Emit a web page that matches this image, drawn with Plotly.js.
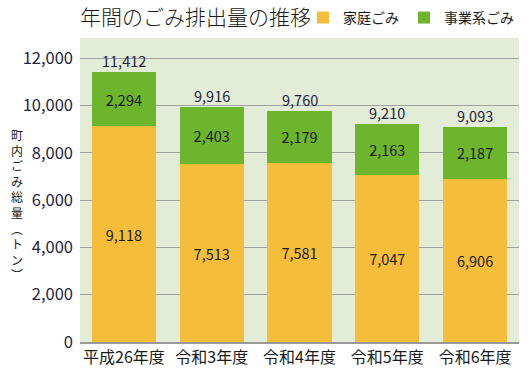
<!DOCTYPE html>
<html>
<head>
<meta charset="utf-8">
<script src="https://cdn.plot.ly/plotly-3.0.1.min.js"></script>
<style>html,body{margin:0;padding:0;background:#fff;}#chart{width:529px;height:374px;}</style>
</head>
<body>
<div id="chart"></div>
<script>
const categories = ["平成26年度", "令和3年度", "令和4年度", "令和5年度", "令和6年度"];
const household = [9118, 7513, 7581, 7047, 6906];
const business = [2294, 2403, 2179, 2163, 2187];
const seriesNames = ["家庭ごみ", "事業系ごみ"];
const tickVals = [0, 2000, 4000, 6000, 8000, 10000, 12000];
const yTitleChars = ["町", "内", "ご", "み", "総", "量", "︵", "ト", "ン", "︶"];

const FONT = '"Noto Sans CJK JP", "Noto Sans", sans-serif';
const fmt = v => v.toLocaleString('en-US');
const totals = household.map((v, i) => v + business[i]);

const traces = [
  {
    type: 'bar', name: seriesNames[0], x: categories, y: household,
    marker: {color: '#f6bd3b'},
    text: household.map(fmt), textposition: 'inside', insidetextanchor: 'middle',
    textfont: {family: FONT, size: 14.5, color: '#1a1a1a'},
    hoverinfo: 'skip'
  },
  {
    type: 'bar', name: seriesNames[1], x: categories, y: business,
    marker: {color: '#6cb52d'},
    text: business.map(fmt), textposition: 'inside', insidetextanchor: 'middle',
    textfont: {family: FONT, size: 14.5, color: '#1a1a1a'},
    hoverinfo: 'skip'
  }
];

const annotations = categories.map((c, i) => ({
  x: c, y: totals[i], xref: 'x', yref: 'y', text: fmt(totals[i]),
  showarrow: false, yanchor: 'bottom', yshift: -1,
  font: {family: FONT, size: 14.5, color: '#1f2340'}
}));

annotations.push({
  xref: 'paper', yref: 'paper', x: -0.143, y: (342 - 204) / 304, xanchor: 'center', yanchor: 'middle',
  text: yTitleChars.join('<br>'), showarrow: false, align: 'center',
  font: {family: FONT, size: 12, color: '#1a1a1a'}
});

const layout = {
  width: 529, height: 374,
  margin: {l: 80, r: 10, t: 38, b: 32, autoexpand: false},
  paper_bgcolor: '#ffffff', plot_bgcolor: '#e2ecd7',
  barmode: 'stack', bargap: 0.27,
  showlegend: true,
  legend: {orientation: 'h', x: 1.0, xanchor: 'right', y: 1.066, yanchor: 'middle',
    font: {family: FONT, size: 14, color: '#1a1a1a'}, traceorder: 'normal',
    bgcolor: 'rgba(0,0,0,0)', itemwidth: 20},
  title: {text: '年間のごみ排出量の推移', x: 80/529, xanchor: 'left', y: 0.952, yanchor: 'middle',
    font: {family: FONT, size: 21, color: '#1a1a1a', weight: 300}},
  xaxis: {
    type: 'category', tickfont: {family: FONT, size: 16, color: '#1a1a1a'},
    showline: true, linecolor: '#999999', linewidth: 1.5, ticks: '', showgrid: false, fixedrange: true
  },
  yaxis: {
    range: [0, 12850], tickvals: tickVals, ticktext: tickVals.map(fmt),
    tickfont: {family: FONT, size: 16.5, color: '#1f2340'},
    showgrid: true, gridcolor: '#a0a0a0', gridwidth: 1, zeroline: false,
    ticks: '', ticklabelstandoff: 6, fixedrange: true
  },
  annotations: annotations
};

Plotly.newPlot('chart', traces, layout, {displayModeBar: false, staticPlot: true});
</script>
</body>
</html>
